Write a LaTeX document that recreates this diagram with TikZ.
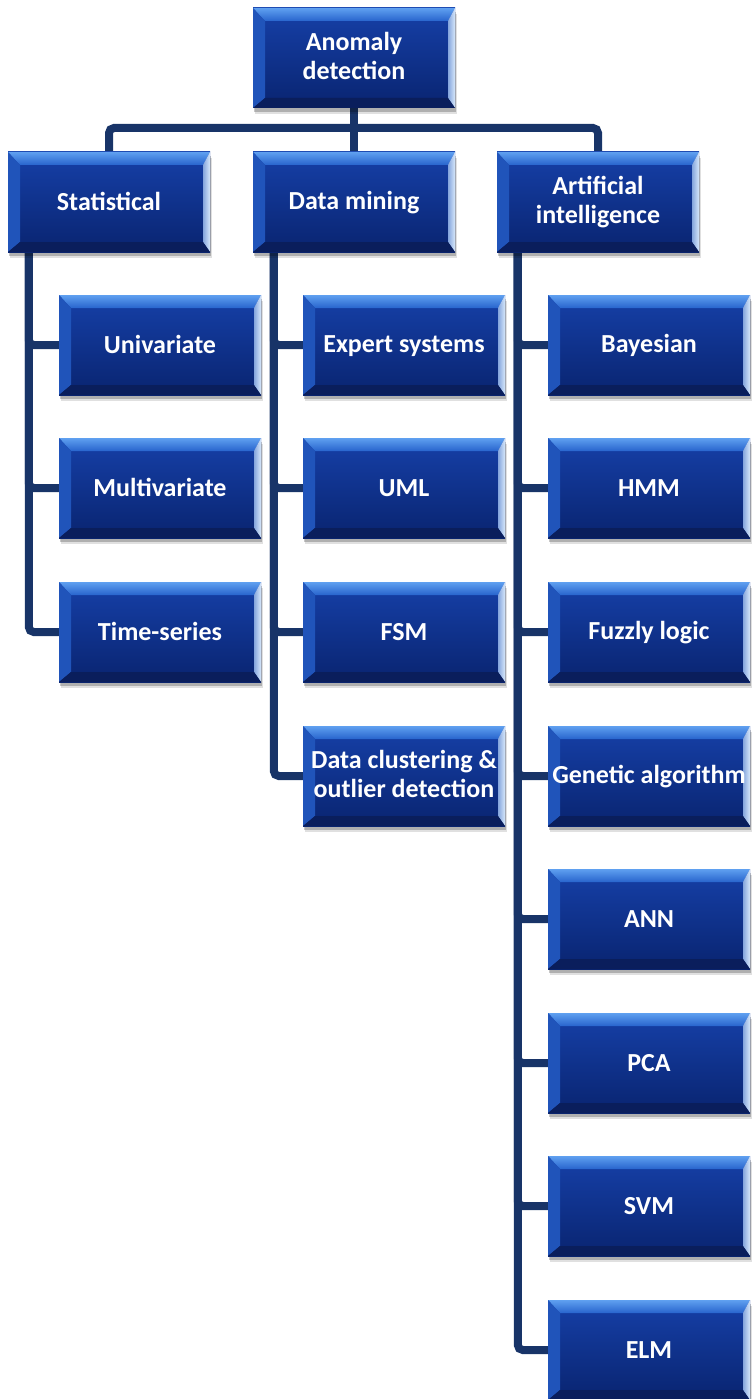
\documentclass[tikz,border=0pt]{standalone}
\usepackage{fontspec}
\setmainfont{Carlito}
\usetikzlibrary{calc,shadows,backgrounds}

\definecolor{facetop}{RGB}{22,64,168}
\definecolor{facebot}{RGB}{9,36,112}
\definecolor{bevtop}{RGB}{95,160,240}
\definecolor{bevtopd}{RGB}{40,100,205}
\definecolor{bevleft}{RGB}{32,84,186}
\definecolor{bevright}{RGB}{215,232,250}
\definecolor{bevbot}{RGB}{10,30,92}
\definecolor{linkcol}{RGB}{24,52,104}

\tikzset{
  bevelbox/.style={
    rectangle, minimum width=202pt, minimum height=100pt, inner sep=0pt,
    text=white, align=center,
    font=\bfseries\fontsize{26}{29.5}\selectfont,
    execute at begin node={\rule{0pt}{20pt}},
    execute at end node={\rule[-4pt]{0pt}{4pt}},
    top color=facetop, bottom color=facebot,
    drop shadow={shadow xshift=2pt, shadow yshift=-6pt, fill=black, opacity=0.12},
    drop shadow={shadow xshift=1pt, shadow yshift=-4pt, fill=black, opacity=0.22},
    path picture={
      \coordinate (pnw) at (path picture bounding box.north west);
      \coordinate (pne) at (path picture bounding box.north east);
      \coordinate (psw) at (path picture bounding box.south west);
      \coordinate (pse) at (path picture bounding box.south east);
      % top bevel
      \shade[top color=bevtop, bottom color=bevtopd]
        (pnw) -- (pne) -- ($(pne)+(-7,-13)$) -- ($(pnw)+(12,-13)$) -- cycle;
      % left bevel
      \fill[bevleft]
        (pnw) -- ($(pnw)+(12,-13)$) -- ($(psw)+(12,10)$) -- (psw) -- cycle;
      % right bevel
      \shade[left color=bevright!55!bevleft, right color=bevright]
        (pne) -- (pse) -- ($(pse)+(-7,10)$) -- ($(pne)+(-7,-13)$) -- cycle;
      % bottom bevel
      \fill[bevbot]
        (psw) -- ($(psw)+(12,10)$) -- ($(pse)+(-7,10)$) -- (pse) -- cycle;
    }
  },
  link/.style={draw=linkcol, line width=8pt, rounded corners=5pt},
}

\begin{document}
\begin{tikzpicture}[x=1pt,y=1pt]
\useasboundingbox (0,0) rectangle (752,-1399);

% root and first level
\node[bevelbox] (root) at (354,-58) {Anomaly\\detection};
\node[bevelbox] (stat) at (109,-202) {Statistical};
\node[bevelbox] (dm)   at (354,-202) {Data mining};
\node[bevelbox] (ai)   at (598,-202) {Artificial\\intelligence};

% statistical branch
\node[bevelbox] (uni) at (160,-345) {Univariate};
\node[bevelbox] (mul) at (160,-488) {Multivariate};
\node[bevelbox] (ts)  at (160,-632) {Time-series};

% data mining branch
\node[bevelbox] (exp) at (404,-345) {Expert systems};
\node[bevelbox] (uml) at (404,-488) {UML};
\node[bevelbox] (fsm) at (404,-632) {FSM};
\node[bevelbox] (clu) at (404,-776) {Data clustering \&\\outlier detection};

% artificial intelligence branch
\node[bevelbox] (bay) at (649,-345)  {Bayesian};
\node[bevelbox] (hmm) at (649,-488)  {HMM};
\node[bevelbox] (fuz) at (649,-632)  {Fuzzly logic};
\node[bevelbox] (gen) at (649,-776)  {Genetic algorithm};
\node[bevelbox] (ann) at (649,-919)  {ANN};
\node[bevelbox] (pca) at (649,-1063) {PCA};
\node[bevelbox] (svm) at (649,-1206) {SVM};
\node[bevelbox] (elm) at (649,-1350) {ELM};

\coordinate (bus) at (354,-128);

\begin{scope}[on background layer]
  % root to first level
  \draw[link] (root.south) -- (bus);
  \draw[link] (stat.north) |- (bus) -| (ai.north);
  \draw[link] (bus) -- (dm.north);

  % statistical spine
  \draw[link] ($(stat.south west)+(21,0)$) |- (ts.west);
  \draw[link] ($(stat.south west)+(21,0)$) |- (uni.west);
  \draw[link] ($(stat.south west)+(21,0)$) |- (mul.west);

  % data mining spine
  \draw[link] ($(dm.south west)+(21,0)$) |- (clu.west);
  \foreach \n in {exp,uml,fsm}
    \draw[link] ($(dm.south west)+(21,0)$) |- (\n.west);

  % artificial intelligence spine
  \draw[link] ($(ai.south west)+(21,0)$) |- (elm.west);
  \foreach \n in {bay,hmm,fuz,gen,ann,pca,svm}
    \draw[link] ($(ai.south west)+(21,0)$) |- (\n.west);
\end{scope}
\end{tikzpicture}
\end{document}
